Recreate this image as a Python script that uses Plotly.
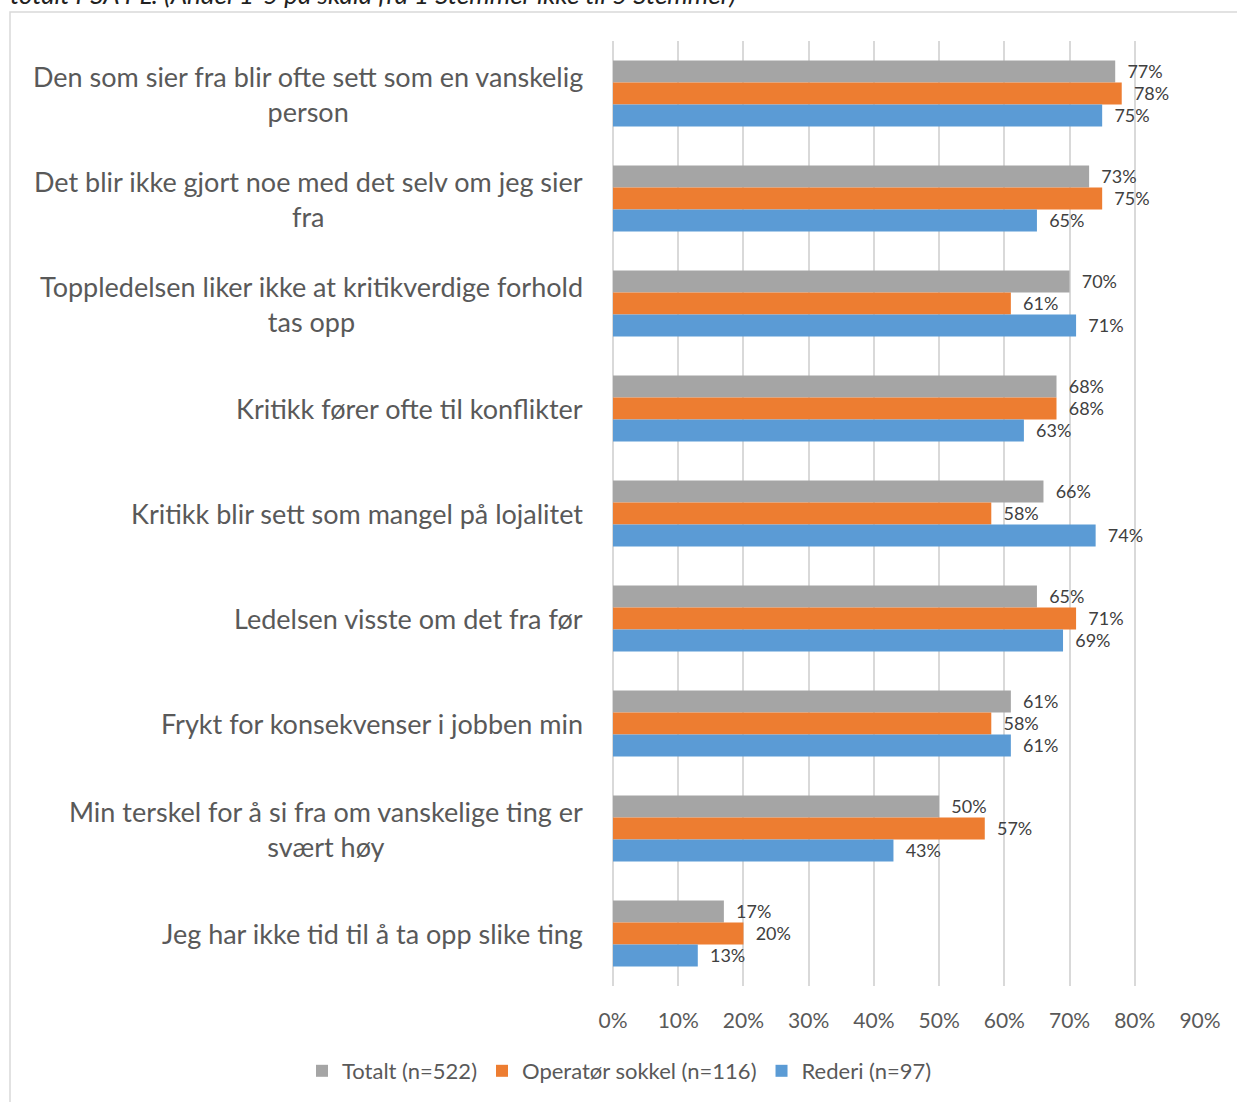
import plotly.graph_objects as go

categories = [
    "Den som sier fra blir ofte sett som en vanskelig<br>person",
    "Det blir ikke gjort noe med det selv om jeg sier<br>fra",
    "Toppledelsen liker ikke at kritikverdige forhold<br>tas opp",
    "Kritikk fører ofte til konflikter",
    "Kritikk blir sett som mangel på lojalitet",
    "Ledelsen visste om det fra før",
    "Frykt for konsekvenser i jobben min",
    "Min terskel for å si fra om vanskelige ting er<br>svært høy",
    "Jeg har ikke tid til å ta opp slike ting",
]
totalt = [0.77, 0.73, 0.70, 0.68, 0.66, 0.65, 0.61, 0.50, 0.17]
operator = [0.78, 0.75, 0.61, 0.68, 0.58, 0.71, 0.58, 0.57, 0.20]
rederi = [0.75, 0.65, 0.71, 0.63, 0.74, 0.69, 0.61, 0.43, 0.13]

series = [
    ("Totalt (n=522)", totalt, "#A5A5A5"),
    ("Operatør sokkel (n=116)", operator, "#ED7D31"),
    ("Rederi (n=97)", rederi, "#5B9BD5"),
]

font = "Lato"
fig = go.Figure()
for name, vals, color in series:
    fig.add_trace(go.Bar(
        y=categories, x=vals, name=name, orientation="h",
        marker=dict(color=color, line=dict(width=0)),
        text=["  %d%%" % round(v * 100) for v in vals],
        textposition="outside", cliponaxis=False,
        textfont=dict(size=22, color="#404040", family=font),
    ))

for c in categories:
    fig.add_annotation(
        x=0, xref="paper", y=c, yref="y", text=c, showarrow=False,
        xanchor="right", xshift=-28, align="center",
        font=dict(size=27, color="#595959", family=font),
    )

# cropped caption at the very top
fig.add_annotation(
    x=(8 - 613) / 587, xref="paper", y=(986 + 6) / 945, yref="paper",
    xanchor="left", yanchor="middle", showarrow=False,
    text="<i>totalt PSA PL. (Andel 1-5 på skala fra 1 Stemmer ikke til 5 Stemmer)</i>",
    font=dict(size=26, color="#222222", family=font),
)

fig.add_shape(
    type="rect", xref="paper", yref="paper",
    x0=(10 - 613) / 587, x1=(1240 - 613) / 587,
    y0=(986 - 1105) / 945, y1=(986 - 12) / 945,
    line=dict(color="#D9D9D9", width=1.5), fillcolor="rgba(0,0,0,0)", layer="below",
)

fig.update_layout(
    width=1237, height=1102,
    margin=dict(l=613, r=37, t=41, b=116, autoexpand=False),
    barmode="group", bargap=0.37, bargroupgap=0,
    plot_bgcolor="white", paper_bgcolor="white",
    font=dict(family=font, color="#595959"),
    xaxis=dict(
        range=[0, 0.9], dtick=0.1, tickformat=".0%",
        showgrid=True, gridcolor="#D9D9D9", gridwidth=1.5,
        zeroline=True, zerolinecolor="#D9D9D9", zerolinewidth=1.5,
        tickfont=dict(size=21, color="#595959"), ticklabelstandoff=20,
        showline=False,
    ),
    yaxis=dict(autorange="reversed", showticklabels=False, showgrid=False),
    legend=dict(
        orientation="h",
        x=(302 - 613) / 587, xanchor="left", y=(986 - 1071) / 945, yanchor="middle",
        font=dict(size=22, color="#595959"), traceorder="normal",
        bgcolor="rgba(0,0,0,0)", itemwidth=30,
    ),
    showlegend=True,
)

fig.write_html(
    "out.html",
    config={"displayModeBar": False},
    post_script="document.body.style.margin='0';document.body.style.overflow='hidden';",
)
